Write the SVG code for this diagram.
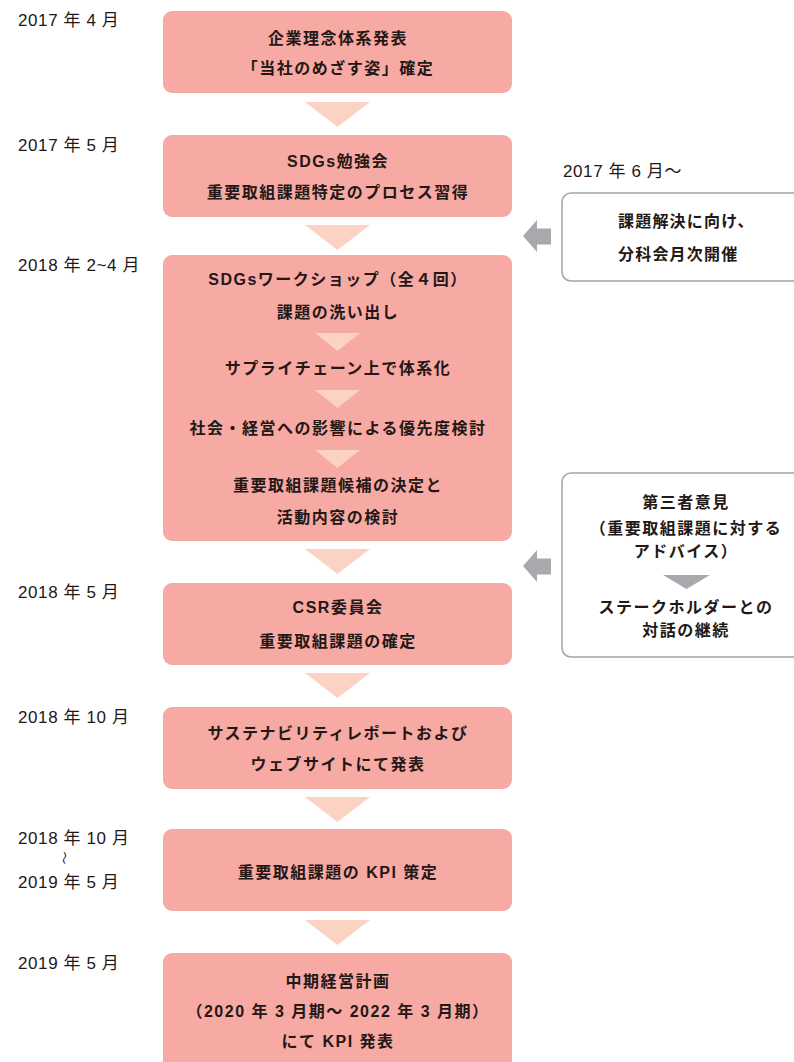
<svg xmlns="http://www.w3.org/2000/svg" width="794" height="1062" viewBox="0 0 794 1062">
<style>
.box{fill:#F7A9A4;}
.tri{fill:#FCD3C2;}
.side{fill:#FFFFFF;stroke:#A3A3A3;stroke-width:1.5;}
.garrow{fill:#A8A9AD;}
.b{font-family:"Liberation Sans","Noto Sans CJK JP",sans-serif;font-weight:bold;font-size:16px;fill:#231815;text-anchor:middle;letter-spacing:1.5px;dominant-baseline:central;}
.s{font-family:"Liberation Sans","Noto Sans CJK JP",sans-serif;font-weight:bold;font-size:16px;fill:#231815;letter-spacing:1.2px;dominant-baseline:central;}
.d{font-family:"Liberation Sans","Noto Sans CJK JP",sans-serif;font-size:17px;fill:#231815;letter-spacing:0.6px;dominant-baseline:central;}
</style>
<rect width="794" height="1062" fill="#FFFFFF"/>

<g id="dates">
<text class="d" x="18" y="20">2017 年 4 月</text>
<text class="d" x="18" y="145">2017 年 5 月</text>
<text class="d" x="18" y="265">2018 年 2~4 月</text>
<text class="d" x="18" y="592">2018 年 5 月</text>
<text class="d" x="18" y="717">2018 年 10 月</text>
<text class="d" x="18" y="838">2018 年 10 月</text>
<text class="d" x="64" y="858" style="font-size:13px;letter-spacing:0" text-anchor="middle" transform="rotate(90 64 858)">〜</text>
<text class="d" x="18" y="882">2019 年 5 月</text>
<text class="d" x="18" y="963">2019 年 5 月</text>
<text class="d" x="563" y="171">2017 年 6 月〜</text>
</g>

<g id="connectors">
<polygon class="tri" points="305,102 370,102 337.5,127"/>
<polygon class="tri" points="305,225 370,225 337.5,250"/>
<polygon class="tri" points="305,549 370,549 337.5,574"/>
<polygon class="tri" points="305,673 370,673 337.5,698"/>
<polygon class="tri" points="305,797 370,797 337.5,822"/>
<polygon class="tri" points="305,920 370,920 337.5,945"/>
<polygon class="garrow" points="523,236 537,220 537,228.5 551,228.5 551,244.5 537,244.5 537,252"/>
<polygon class="garrow" points="523,566 537,550 537,558.5 551,558.5 551,574.5 537,574.5 537,582"/>
</g>

<g id="n1">
<rect class="box" x="163" y="11" width="349" height="82" rx="9"/>
<text class="b" x="338" y="38">企業理念体系発表</text>
<text class="b" x="338" y="68">「当社のめざす姿」確定</text>
</g>

<g id="n2">
<rect class="box" x="163" y="135" width="349" height="82" rx="9"/>
<text class="b" x="338" y="161">SDGs勉強会</text>
<text class="b" x="338" y="192">重要取組課題特定のプロセス習得</text>
</g>

<g id="n3">
<rect class="box" x="163" y="255" width="349" height="286" rx="9"/>
<text class="b" x="338" y="279">SDGsワークショップ（全４回）</text>
<text class="b" x="338" y="312">課題の洗い出し</text>
<polygon class="tri" points="315,333 360,333 337.5,351"/>
<text class="b" x="338" y="368">サプライチェーン上で体系化</text>
<polygon class="tri" points="315,390 360,390 337.5,408"/>
<text class="b" x="338" y="428">社会・経営への影響による優先度検討</text>
<polygon class="tri" points="315,450 360,450 337.5,468"/>
<text class="b" x="338" y="485">重要取組課題候補の決定と</text>
<text class="b" x="338" y="517">活動内容の検討</text>
</g>

<g id="n4">
<rect class="box" x="163" y="583" width="349" height="82" rx="9"/>
<text class="b" x="338" y="607">CSR委員会</text>
<text class="b" x="338" y="641">重要取組課題の確定</text>
</g>

<g id="n5">
<rect class="box" x="163" y="707" width="349" height="82" rx="9"/>
<text class="b" x="338" y="733">サステナビリティレポートおよび</text>
<text class="b" x="338" y="764">ウェブサイトにて発表</text>
</g>

<g id="n6">
<rect class="box" x="163" y="829" width="349" height="82" rx="9"/>
<text class="b" x="338" y="872">重要取組課題の KPI 策定</text>
</g>

<g id="n7">
<rect class="box" x="163" y="953" width="349" height="130" rx="9"/>
<text class="b" x="338" y="981">中期経営計画</text>
<text class="b" x="338" y="1011">（2020 年 3 月期〜 2022 年 3 月期）</text>
<text class="b" x="338" y="1041">にて KPI 発表</text>
</g>

<g id="side1">
<rect class="side" x="562" y="193" width="260" height="88" rx="9"/>
<text class="s" x="618" y="221">課題解決に向け、</text>
<text class="s" x="618" y="254">分科会月次開催</text>
</g>

<g id="side2">
<rect class="side" x="562" y="473" width="260" height="184" rx="9"/>
<text class="b" x="686" y="502">第三者意見</text>
<text class="b" x="686" y="528">（重要取組課題に対する</text>
<text class="b" x="686" y="551">アドバイス）</text>
<polygon class="garrow" points="663,575 710,575 686.5,589"/>
<text class="b" x="686" y="607">ステークホルダーとの</text>
<text class="b" x="686" y="630">対話の継続</text>
</g>
</svg>
